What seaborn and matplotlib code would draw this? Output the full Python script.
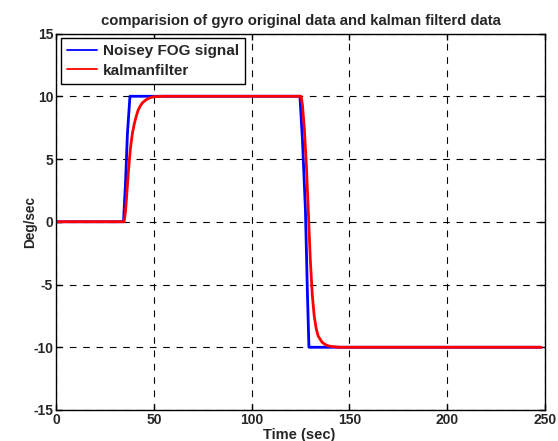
import matplotlib
matplotlib.use("Agg")
import matplotlib.pyplot as plt
import seaborn as sns
import pandas as pd

# Noisy FOG signal (blue)
fog_time = [0, 34.5, 35.5, 36.5, 37.8, 124.7, 126.0, 127.5, 128.5, 129.3, 248]
fog_value = [0, 0, 3.0, 7.0, 10, 10, 6.5, 1.0, -5.5, -10, -10]

# Kalman filter output (red)
kal_time = [0, 34.8, 35.5, 36, 37, 38, 39, 40, 41, 42, 43, 44, 46, 48, 50, 55,
            125.3, 126, 127, 128, 129, 130, 131, 132, 133, 134, 136, 138, 140, 145, 248]
kal_value = [0, 0, 0.8, 1.8, 4.0, 5.8, 7.0, 7.8, 8.4, 8.9, 9.2, 9.45, 9.72, 9.88, 9.96, 10,
             10, 9.3, 7.3, 4.5, 0.8, -3.0, -5.8, -7.5, -8.5, -9.1, -9.6, -9.82, -9.92, -10, -10]

title = "comparision of gyro original data and kalman filterd data"
x_label = "Time (sec)"
y_label = "Deg/sec"
series_names = ["Noisey FOG signal", "kalmanfilter"]
x_ticks = [0, 50, 100, 150, 200, 250]
y_ticks = [-15, -10, -5, 0, 5, 10, 15]

sns.set_style("white")
plt.rcParams['font.family'] = ['Liberation Sans', 'DejaVu Sans']
plt.rcParams['font.weight'] = 'bold'

fig = plt.figure(figsize=(5.58, 4.41), dpi=100)
ax = fig.add_axes([0.1004, 0.0703, 0.8763, 0.8537])

df_fog = pd.DataFrame({"t": fog_time, "v": fog_value})
df_kal = pd.DataFrame({"t": kal_time, "v": kal_value})
sns.lineplot(data=df_fog, x="t", y="v", ax=ax, color="#0000ff", linewidth=2,
             label=series_names[0], sort=False, estimator=None)
sns.lineplot(data=df_kal, x="t", y="v", ax=ax, color="#ff0000", linewidth=2,
             label=series_names[1], sort=False, estimator=None)

ax.set_xlim(0, 250)
ax.set_ylim(-15, 15)
ax.set_xticks(x_ticks)
ax.set_yticks(y_ticks)
ax.set_xticklabels([str(t) for t in x_ticks], fontsize=10, fontweight='bold')
ax.set_yticklabels([str(t) for t in y_ticks], fontsize=10, fontweight='bold')
ax.tick_params(direction='in', length=4, width=1, color='black', pad=2,
               top=True, right=True, bottom=True, left=True)
ax.grid(True, color='black', linestyle=(0, (6, 6)), linewidth=0.8)
for s in ax.spines.values():
    s.set_color('black')
    s.set_linewidth(1)
    s.set_visible(True)

ax.set_title(title, fontsize=10.7, fontweight='bold', pad=6)
ax.set_xlabel(x_label, fontsize=10.5, fontweight='bold')
ax.set_ylabel(y_label, fontsize=9.8, fontweight='bold')
ax.xaxis.set_label_coords(0.498, -0.049)
ax.yaxis.set_label_coords(-0.039, 0.5)

leg = ax.legend(loc='upper left', frameon=True, fancybox=False, handlelength=2.0,
                borderaxespad=0.3, prop={'weight': 'bold', 'size': 11},
                borderpad=0.4, labelspacing=0.35, handletextpad=0.35)
leg.get_frame().set_edgecolor('black')
leg.get_frame().set_linewidth(1)
leg.get_frame().set_alpha(1)
for h in leg.get_lines():
    h.set_linewidth(1.3)

fig.savefig("out.png", dpi=100)
